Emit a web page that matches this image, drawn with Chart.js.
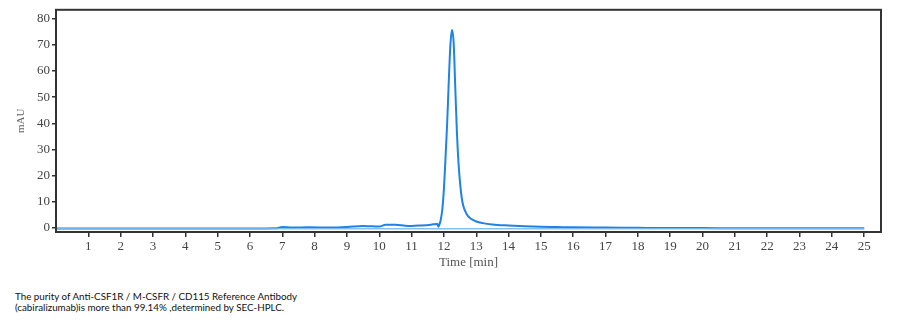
<!DOCTYPE html>
<html><head><meta charset="utf-8">
<script src="https://cdn.jsdelivr.net/npm/chart.js@4.4.1/dist/chart.umd.min.js"></script>
<style>
html,body{margin:0;padding:0;background:#fff;width:906px;height:322px;overflow:hidden;}
#wrap{position:absolute;left:0;top:0;width:906px;height:272px;}
#cap{position:absolute;left:15px;top:291px;font-family:Lato,"Open Sans",sans-serif;font-size:9.8px;line-height:11px;color:#111;}
</style></head><body>
<div id="wrap"><canvas id="c" width="906" height="272"></canvas></div>
<div id="cap">The purity of Anti-CSF1R / M-CSFR / CD115 Reference Antibody<br>(cabiralizumab)is more than 99.14% ,determined by SEC-HPLC.</div>
<script>
const timeMin = [0,1,2,3,4,5,6,6.8,7,7.3,7.8,8.5,9,9.5,9.7,10,10.2,10.5,10.8,11,11.3,11.6,11.8,11.83,11.87,11.9,11.95,12.0,12.05,12.1,12.15,12.2,12.25,12.3,12.35,12.4,12.45,12.5,12.55,12.6,12.7,12.8,12.9,13.0,13.2,13.5,14,14.5,15,15.5,16,17,18,19,20,21,22,23,24,25];
const mAU     = [-0.3,-0.3,-0.3,-0.3,-0.3,-0.3,-0.3,-0.2,0.3,0.1,0.2,0.1,0.3,0.7,0.6,0.5,1.2,1.2,0.8,0.7,0.9,1.2,1.5,0.4,1.6,3,7,15,27,40,56,70,75.7,71,54,37,25,17,11.5,8.3,5.3,3.8,3.0,2.4,1.8,1.3,0.9,0.6,0.4,0.3,0.2,0.1,0,-0.1,-0.1,-0.2,-0.2,-0.2,-0.2,-0.2];
const baseTime = [0,25];
const baseVal  = [-0.4,-0.4];
const xTicks = [1,2,3,4,5,6,7,8,9,10,11,12,13,14,15,16,17,18,19,20,21,22,23,24,25];
const yTicks = [0,10,20,30,40,50,60,70,80];

const frame = {id:'frame',afterDraw(ch){const a=ch.chartArea,c=ch.ctx;c.save();c.strokeStyle='#333';c.lineWidth=2;c.strokeRect(a.left,a.top,a.right-a.left,a.bottom-a.top);c.restore();}};
const serif = {family:'"Liberation Serif","DejaVu Serif",serif',size:13};
new Chart(document.getElementById('c'),{
 type:'line',
 data:{datasets:[
  {data:baseTime.map((t,i)=>({x:t,y:baseVal[i]})),borderColor:'rgba(120,185,240,0.9)',borderWidth:1.5,pointRadius:0,tension:0},
  {data:timeMin.map((t,i)=>({x:t,y:mAU[i]})),borderColor:'#1e82e6',borderWidth:2,pointRadius:0,tension:0.35,cubicInterpolationMode:'monotone'}
 ]},
 options:{responsive:false,animation:false,
  layout:{padding:{top:8,right:25,left:0,bottom:0}},
  plugins:{legend:{display:false},tooltip:{enabled:false}},
  scales:{
   x:{type:'linear',min:0,max:25.52,
    afterBuildTicks(s){s.ticks=xTicks.map(v=>({value:v}));},
    afterFit(s){s.height=40;},
    grid:{drawOnChartArea:false,drawTicks:true,tickLength:5,color:'#333',lineWidth:1.5},
    border:{color:'#333',width:2},
    ticks:{color:'#444',font:serif,padding:2,maxRotation:0,autoSkip:false},
    title:{display:true,text:'Time [min]',color:'#555',font:serif,padding:{top:0,bottom:2}}},
   y:{type:'linear',min:-1.6,max:83.4,
    afterBuildTicks(s){s.ticks=yTicks.map(v=>({value:v}));},
    afterFit(s){s.width=56;},
    grid:{drawOnChartArea:false,drawTicks:true,tickLength:4,color:'#333',lineWidth:1.5},
    border:{color:'#333',width:2},
    ticks:{color:'#444',font:serif,padding:2},
    title:{display:true,text:'mAU',color:'#666',font:{family:serif.family,size:11},padding:{top:15,bottom:4}}}
  }},
 plugins:[frame]
});
</script></body></html>
